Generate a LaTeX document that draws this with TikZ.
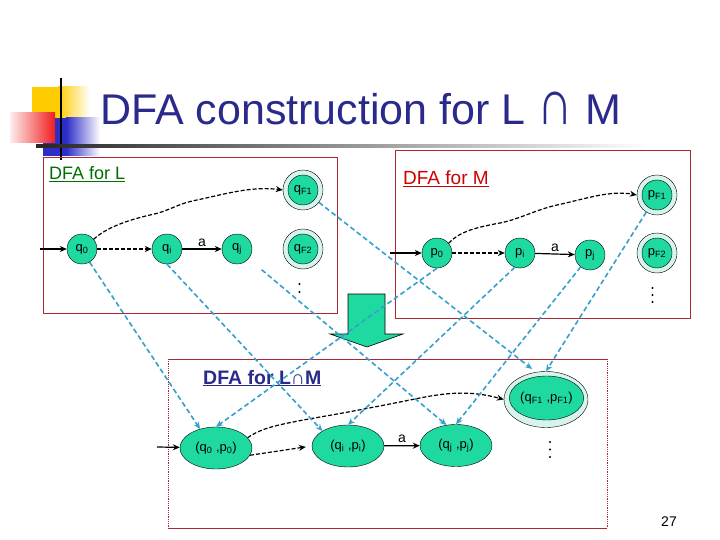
\documentclass[tikz,border=0pt]{standalone}
\usepackage{fontspec}
\setmainfont{Liberation Sans}
\usetikzlibrary{arrows.meta,shapes.geometric}
\definecolor{stgreen}{RGB}{30,218,160}
\definecolor{ringc}{RGB}{214,244,236}
\definecolor{mapblue}{RGB}{52,160,205}
\definecolor{titleblue}{RGB}{42,42,140}
\definecolor{boxred}{RGB}{170,40,50}
\definecolor{lgreen}{RGB}{0,110,0}
\definecolor{mred}{RGB}{205,0,0}
\definecolor{decyellow}{RGB}{255,204,0}
\definecolor{decblue}{RGB}{45,45,200}
\definecolor{decred}{RGB}{240,30,30}
\newcommand{\sbs}[1]{\textsubscript{#1}}
\begin{document}
\begin{tikzpicture}[x=1pt,y=-1pt,
  stnode/.style={circle,draw,fill=stgreen,minimum size=30pt,inner sep=0pt,font=\fontsize{13}{14}\selectfont},
  ringnode/.style={circle,draw,fill=ringc,minimum size=40pt,inner sep=0pt},
  pstnode/.style={ellipse,draw,fill=stgreen,minimum width=72pt,minimum height=42pt,inner sep=0pt,font=\fontsize{13}{14}\selectfont},
  pring/.style={ellipse,draw,fill=ringc,minimum width=84pt,minimum height=56pt,inner sep=0pt},
  mapline/.style={draw=mapblue,line width=1.6pt,dash pattern=on 5pt off 3pt,-{Stealth[length=7pt,width=6pt]}},
  trans/.style={draw,line width=1.2pt,-{Stealth[length=7pt,width=6pt]}},
  ptrans/.style={trans,dash pattern=on 4pt off 2pt},
  lbl/.style={font=\fontsize{14}{16}\selectfont,inner sep=1pt},
  boxline/.style={draw=boxred,line width=0.8pt},
  vdot/.style={fill=black}
]
\useasboundingbox (0,0) rectangle (720,540);

% decoration of the title
\fill[decyellow] (32,87) rectangle (58,135);
\shade[left color=decyellow,right color=white] (58,87) rectangle (90,135);
\fill[decblue] (43,118) rectangle (66,156);
\shade[left color=decblue,right color=white] (66,118) rectangle (100,156);
\shade[left color=decred!8,right color=decred] (10,113) rectangle (55,143);
\draw[line width=2.4pt] (61,78) -- (61,160);
\shade[left color=black!85,right color=white] (36,144.5) rectangle (650,147.5);

\node[anchor=base west,text=titleblue,font=\fontsize{43}{50}\selectfont,inner sep=0pt] (title) at (100,125) {DFA construction for L \scalebox{1.15}[1.5]{∩} M};

% boxes
\draw[boxline] (43,157) rectangle (337,313);
\draw[boxline] (395,150) rectangle (690,318);
\draw[boxline] (168,359) -- (607,359);
\draw[boxline] (168,528) -- (607,528);
\draw[boxline,densely dotted,line width=0.6pt] (168,359) -- (168,528);
\draw[boxline,densely dotted,line width=0.6pt] (607,359) -- (607,528);

\node[anchor=base west,text=lgreen,font=\fontsize{18}{20}\selectfont,inner sep=0pt] (labL) at (49,180) {\underline{DFA for L}};
\node[anchor=base west,text=mred,font=\fontsize{19}{20}\selectfont,inner sep=0pt] (labM) at (403,185) {\underline{DFA for M}};
\node[anchor=base west,text=titleblue,font=\bfseries\fontsize{19.5}{20}\selectfont,inner sep=0pt] (labLM) at (203,384) {\underline{DFA for L∩M}};

% green block arrow
\draw[fill=stgreen,line width=0.6pt] (348,294) -- (385,294) -- (385,334) -- (403,334) -- (367,347) -- (330,334) -- (348,334) -- cycle;

% DFA for L
\node[stnode] (q0) at (82,249) {q\sbs{0}};
\node[stnode] (qi) at (167,249) {q\sbs{i}};
\node[stnode] (qj) at (237,249) {q\sbs{j}};
\node[ringnode] (qF1o) at (303,190) {};
\node[stnode] (qF1) at (303,190) {q\sbs{F1}};
\node[ringnode] (qF2o) at (303,249) {};
\node[stnode] (qF2) at (303,249) {q\sbs{F2}};
\fill[vdot] (299.5,284) circle (1.2) (299.5,292) circle (1.2);
\coordinate (inL) at (40,249);
\draw[trans] (inL) -- (q0);
\draw[ptrans] (q0) -- (qi);
\draw[trans] (qi) -- node[lbl,above=1pt] {a} (qj);
\draw[ptrans] (q0.40) .. controls (104,230) and (120,222) .. (150,215) .. controls (170,211) and (176,204) .. (197,200) .. controls (225,194) and (252,186) .. (qF1o.west);

% DFA for M
\node[stnode] (p0) at (437,253) {p\sbs{0}};
\node[stnode] (pi) at (520,253) {p\sbs{i}};
\node[stnode] (pj) at (590,255) {p\sbs{j}};
\node[ringnode] (pF1o) at (657,195) {};
\node[stnode] (pF1) at (657,195) {p\sbs{F1}};
\node[ringnode] (pF2o) at (657,253) {};
\node[stnode] (pF2) at (657,253) {p\sbs{F2}};
\fill[vdot] (652.5,288) circle (1.2) (652.5,295) circle (1.2) (652.5,302) circle (1.2);
\coordinate (inM) at (390,253);
\draw[trans] (inM) -- (p0);
\draw[ptrans] (p0) -- (pi);
\draw[trans] (pi) -- node[lbl,above=1pt] {a} (pj);
\draw[ptrans] (p0.40) .. controls (458,233) and (472,228) .. (500,223) .. controls (520,219) and (535,210) .. (557,205) .. controls (585,199) and (610,190) .. (pF1o.west);

% DFA for L cap M
\node[pstnode] (q0p0) at (216,448) {(q\sbs{0} ,p\sbs{0})};
\node[pstnode] (qipi) at (348,446) {(q\sbs{i} ,p\sbs{i})};
\node[pstnode] (qjpj) at (456,445.5) {(q\sbs{j} ,p\sbs{j})};
\node[pring] (qFpFo) at (546,399.5) {};
\node[pstnode,minimum width=73pt,minimum height=44pt] (qFpF) at (546.5,398) {(q\sbs{F1} ,p\sbs{F1})};
\fill[vdot] (550,442) circle (1.2) (550,449.5) circle (1.2) (550,457) circle (1.2);
\coordinate (inLM) at (157,447);
\draw[trans] (inLM) -- (q0p0);
\draw[ptrans,shorten >=6pt] (q0p0.-12) -- (qipi.west);
\draw[trans] (qipi) -- node[lbl,above=2pt] {a} (qjpj);
\draw[ptrans] (q0p0.18) .. controls (262,428) and (275,425) .. (320,417) .. controls (350,412) and (390,404) .. (420,398) .. controls (445,393) and (470,390) .. (qFpFo.west);

% mapping lines
\draw[mapline] (q0.300) -- (q0p0.130);
\draw[mapline] (p0.south) -- (q0p0.north);
\draw[mapline] (qi.south) -- (qipi.north west);
\draw[mapline] (pi.250) -- (qipi.north);
\draw[mapline,shorten <=17pt] (qj) -- (qjpj.115);
\draw[mapline] (pj) -- (qjpj.north);
\draw[mapline,shorten >=5pt] (qF1o) -- (qFpFo.110);
\draw[mapline] (pF1o) -- (qFpFo.north);

\node[font=\fontsize{14}{16}\selectfont] (pnum) at (669,522) {27};
\end{tikzpicture}
\end{document}
